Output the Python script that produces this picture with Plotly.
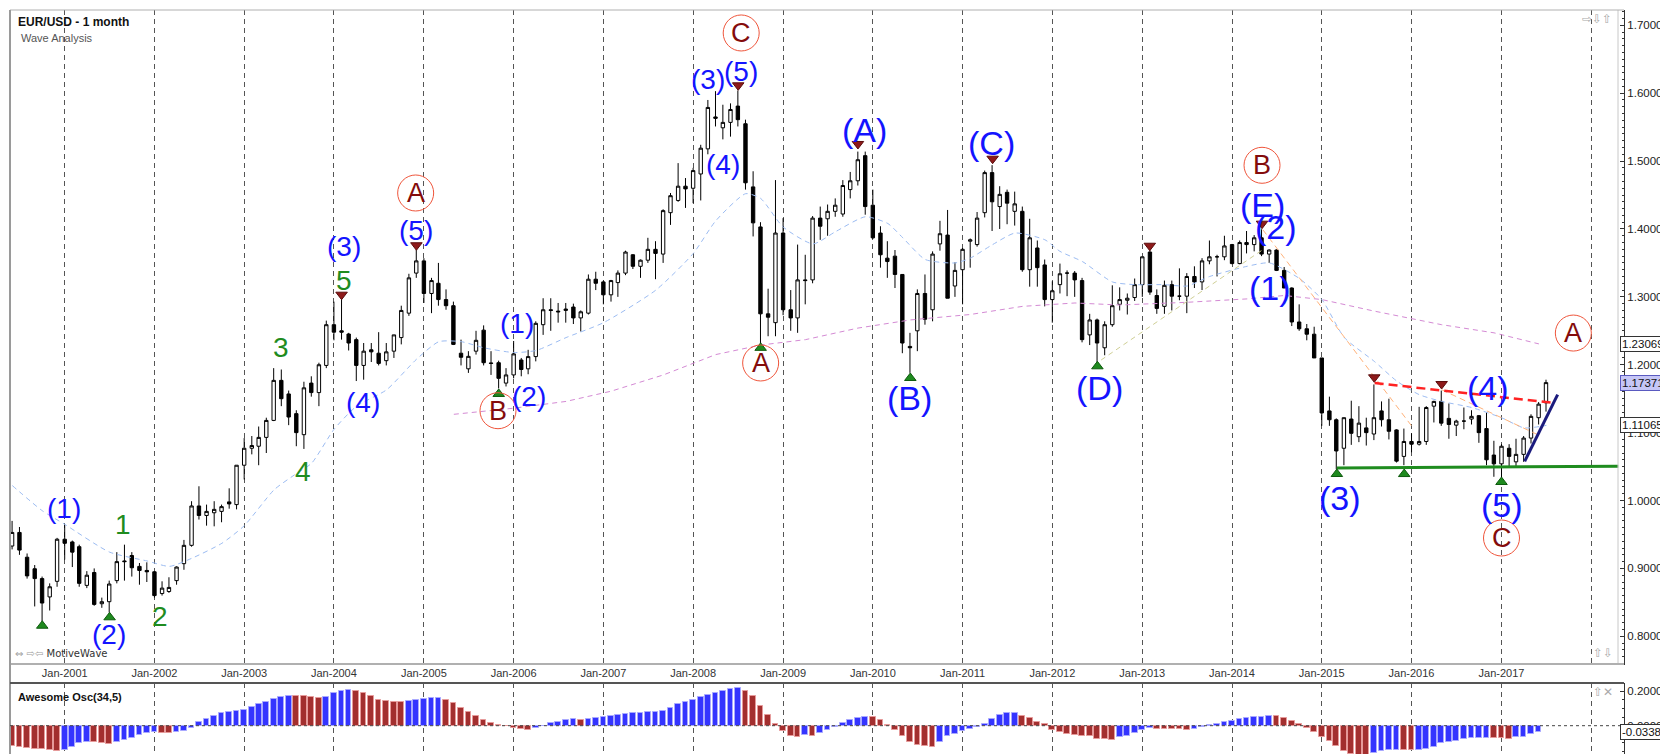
import pandas as pd
import plotly.graph_objects as go

# ---------------- data ----------------
MONTHS = pd.date_range("2000-06-01", periods=206, freq="MS")

OPEN = [
 .9330,.9530,.9165,.8995,.8850,.8580,.8810,
 .9430,.9390,.9320,.8750,.8940,.8480,.8510,.8820,.9110,.9190,.9030,.8970,
 .8950,.8630,.8660,.8820,.9070,.9340,.9920,.9780,.9820,.9840,.9980,.9940,
 1.0520,1.0770,1.0800,1.0930,1.1180,1.1770,1.1570,1.1280,1.0970,1.1730,1.1590,1.1990,
 1.2590,1.2500,1.2453,1.2370,1.1990,1.2220,1.2170,1.2060,1.2200,1.2400,1.2760,1.3350,
 1.3530,1.3050,1.3200,1.2960,1.2870,1.2170,1.1940,1.2200,1.2510,1.2026,1.2030,1.1730,
 1.1850,1.2070,1.1940,1.2120,1.2590,1.2810,1.2790,1.2800,1.2850,1.2690,1.2760,1.3260,
 1.3220,1.3030,1.3210,1.3350,1.3620,1.3450,1.3540,1.3700,1.3630,1.4240,1.4420,1.4630,
 1.4600,1.4810,1.5180,1.5650,1.5490,1.5570,1.5810,1.5550,1.4620,1.4030,1.2750,1.2620,
 1.3940,1.2810,1.2690,1.3250,1.3250,1.4160,1.4150,1.4260,1.4220,1.4580,1.4710,1.5080,
 1.4350,1.3940,1.3570,1.3600,1.3330,1.2270,1.2500,1.3050,1.2810,1.3780,1.3910,1.3160,
 1.3400,1.3820,1.3770,1.4240,1.4830,1.4330,1.4540,1.4260,1.4260,1.3400,1.3720,1.3470,
 1.2960,1.3180,1.3350,1.3350,1.3240,1.2440,1.2660,1.2250,1.2590,1.2890,1.2950,1.2990,
 1.3180,1.3660,1.3020,1.2860,1.3180,1.3010,1.3010,1.3300,1.3220,1.3530,1.3590,1.3590,
 1.3770,1.3490,1.3800,1.3770,1.3870,1.3630,1.3690,1.3390,1.3130,1.2630,1.2530,1.2450,
 1.2100,1.1320,1.1190,1.0770,1.1200,1.0940,1.1070,1.0980,1.1320,1.1190,1.1040,1.0650,
 1.0870,1.0830,1.0870,1.1390,1.1460,1.1210,1.1110,1.1170,1.1200,1.1250,1.1060,1.0670,
 1.0540,1.0770,1.0570,1.0680,1.0920,1.1220,1.1440]
HIGH = [
 .9700,.9610,.9220,.9050,.8880,.8780,.9450,
 .9640,.9410,.9350,.8960,.9000,.8570,.8820,.9240,.9350,.9240,.9080,.9090,
 .8960,.8810,.8870,.9030,.9420,.9990,1.0210,.9940,.9990,.9940,1.0180,1.0520,
 1.0920,1.0950,1.1090,1.1220,1.1950,1.1930,1.1620,1.1330,1.1750,1.1830,1.2030,1.2650,
 1.2930,1.3010,1.2470,1.2400,1.2320,1.2320,1.2480,1.2320,1.2440,1.2870,1.3340,1.3690,
 1.3570,1.3280,1.3500,1.3110,1.2930,1.2370,1.2200,1.2500,1.2580,1.2200,1.2060,1.1950,
 1.2350,1.2100,1.2220,1.2640,1.2980,1.2980,1.2910,1.2910,1.2900,1.2800,1.3330,1.3370,
 1.3240,1.3250,1.3390,1.3680,1.3630,1.3550,1.3870,1.3820,1.4290,1.4530,1.4970,1.4750,
 1.4900,1.5240,1.5900,1.6030,1.5830,1.5850,1.6040,1.5610,1.4850,1.4100,1.3120,1.4720,
 1.4160,1.3100,1.3770,1.3620,1.4190,1.4330,1.4360,1.4450,1.4720,1.4840,1.5140,1.5140,
 1.4580,1.4040,1.3820,1.3690,1.3330,1.2470,1.3110,1.3330,1.3670,1.4120,1.4280,1.3510,
 1.3720,1.3860,1.4250,1.4860,1.4940,1.4630,1.4580,1.4550,1.4330,1.4150,1.3830,1.3550,
 1.3230,1.3490,1.3390,1.3380,1.3280,1.2750,1.2680,1.2640,1.3170,1.3140,1.3050,1.3270,
 1.3590,1.3710,1.3110,1.3240,1.3240,1.3420,1.3350,1.3450,1.3570,1.3830,1.3620,1.3900,
 1.3780,1.3830,1.3970,1.3910,1.3995,1.3700,1.3700,1.3440,1.3140,1.2890,1.2600,1.2560,
 1.2100,1.1530,1.1210,1.1220,1.1470,1.1390,1.1220,1.1710,1.1460,1.1500,1.1050,1.1060,
 1.0990,1.1380,1.1390,1.1470,1.1620,1.1430,1.1190,1.1370,1.1330,1.1260,1.1300,1.0880,
 1.0830,1.0830,1.0910,1.0950,1.1270,1.1450,1.1780]
LOW = [
 .9280,.9200,.8850,.8440,.8225,.8380,.8730,
 .9130,.9020,.8730,.8710,.8450,.8420,.8350,.8780,.8820,.8880,.8760,.8800,
 .8570,.8600,.8640,.8760,.8980,.9320,.9720,.9630,.9620,.9680,.9880,.9870,
 1.0310,1.0680,1.0520,1.0700,1.1170,1.1390,1.1110,1.0800,1.0760,1.1530,1.1390,1.1950,
 1.2360,1.2370,1.2210,1.1760,1.1780,1.2040,1.1990,1.1990,1.2100,1.2300,1.2720,1.3280,
 1.2910,1.2760,1.2870,1.2810,1.2290,1.1990,1.1880,1.2150,1.1990,1.1850,1.1650,1.1680,
 1.1800,1.1830,1.1860,1.2050,1.2440,1.2500,1.2620,1.2620,1.2600,1.2490,1.2740,1.3100,
 1.2890,1.2930,1.3000,1.3320,1.3410,1.3280,1.3500,1.3260,1.3500,1.4060,1.4400,1.4310,
 1.4380,1.4420,1.5100,1.5510,1.5320,1.5360,1.5510,1.4580,1.3890,1.2310,1.2420,1.2420,
 1.2730,1.2500,1.2470,1.2890,1.3200,1.3840,1.3900,1.4180,1.4180,1.4450,1.4640,1.4210,
 1.3850,1.3430,1.3280,1.3130,1.2170,1.1880,1.2200,1.2590,1.2640,1.3680,1.2980,1.3000,
 1.2890,1.3430,1.3740,1.4170,1.3970,1.4000,1.4070,1.4050,1.3370,1.3150,1.3150,1.2860,
 1.2620,1.3050,1.3010,1.3000,1.2330,1.2290,1.2040,1.2140,1.2560,1.2800,1.2740,1.2940,
 1.3000,1.3030,1.2750,1.2750,1.2800,1.2950,1.2760,1.3130,1.3100,1.3480,1.3300,1.3540,
 1.3480,1.3480,1.3640,1.3670,1.3600,1.3500,1.3380,1.3130,1.2570,1.2500,1.2360,1.2100,
 1.1100,1.1100,1.0460,1.0520,1.0820,1.0860,1.0810,1.0890,1.1090,1.0900,1.0560,1.0520,
 1.0710,1.0810,1.0820,1.1150,1.1100,1.0910,1.0950,1.1050,1.1120,1.0850,1.0520,1.0350,
 1.0340,1.0490,1.0500,1.0570,1.0840,1.1120,1.1310]
CLOSE = [
 .9530,.9270,.8890,.8850,.8490,.8730,.9430,
 .9370,.9240,.8780,.8900,.8470,.8510,.8770,.9100,.9100,.9010,.8970,.8950,
 .8600,.8710,.8720,.9020,.9340,.9920,.9780,.9840,.9870,.9910,.9950,1.0520,
 1.0770,1.0810,1.0930,1.1180,1.1770,1.1500,1.1230,1.1000,1.1660,1.1590,1.2000,1.2590,
 1.2480,1.2480,1.2320,1.1990,1.2200,1.2190,1.2020,1.2190,1.2440,1.2800,1.3280,1.3530,
 1.3050,1.3240,1.2960,1.2870,1.2300,1.2110,1.2124,1.2360,1.2030,1.2020,1.1800,1.1850,
 1.2160,1.1930,1.2120,1.2610,1.2810,1.2800,1.2780,1.2820,1.2690,1.2780,1.3260,1.3200,
 1.3030,1.3240,1.3350,1.3660,1.3450,1.3540,1.3700,1.3640,1.4270,1.4490,1.4630,1.4590,
 1.4860,1.5190,1.5790,1.5630,1.5570,1.5760,1.5610,1.4680,1.4090,1.2750,1.2700,1.3940,
 1.2810,1.2690,1.3250,1.3240,1.4160,1.4040,1.4260,1.4350,1.4640,1.4710,1.5020,1.4330,
 1.3870,1.3620,1.3520,1.3330,1.2320,1.2250,1.3050,1.2670,1.3630,1.3930,1.2980,1.3390,
 1.3700,1.3840,1.4160,1.4830,1.4400,1.4510,1.4380,1.4370,1.3400,1.3870,1.3430,1.2960,
 1.3090,1.3340,1.3350,1.3250,1.2370,1.2660,1.2320,1.2590,1.2870,1.2960,1.2980,1.3180,
 1.3590,1.3070,1.2830,1.3170,1.3010,1.3010,1.3300,1.3220,1.3530,1.3590,1.3590,1.3750,
 1.3490,1.3800,1.3770,1.3870,1.3630,1.3690,1.3390,1.3130,1.2630,1.2530,1.2450,1.2100,
 1.1290,1.1190,1.0730,1.1220,1.0990,1.1140,1.1000,1.1220,1.1190,1.1020,1.0580,1.0870,
 1.0830,1.0870,1.1370,1.1460,1.1140,1.1120,1.1170,1.1170,1.1240,1.1000,1.0600,1.0540,
 1.0800,1.0650,1.0680,1.0920,1.1240,1.1420,1.1737]

# Awesome oscillator, one bar per month from Jun-2000 to Jun-2017
AO = [
 -0.120,-0.126,-0.130,-0.133,-0.135,-0.144,-0.146,
 -0.140,-0.121,-0.102,-0.092,-0.095,-0.100,-0.106,
 -0.092,-0.082,-0.072,-0.053,-0.044,-0.039,
 -0.042,-0.044,-0.037,-0.029,-0.014,
 0.019,0.041,0.058,0.074,0.079,0.087,0.093,
 0.110,0.126,0.138,0.157,0.169,0.175,
 0.174,0.173,0.169,0.163,
 0.169,0.190,0.204,0.205,
 0.203,0.190,0.174,0.151,0.142,0.138,0.136,
 0.141,0.151,0.157,0.160,0.161,
 0.151,0.132,0.103,0.078,0.054,0.031,0.016,0.006,-0.003,-0.013,-0.017,-0.024,
 -0.014,-0.002,0.013,0.023,0.035,0.039,
 0.033,
 0.039,0.045,0.048,0.054,0.060,0.066,0.071,0.073,0.080,0.082,0.087,0.103,0.126,0.136,0.151,0.165,0.180,0.190,0.200,0.212,0.217,
 0.203,0.171,0.116,0.060,0.012,-0.029,-0.061,-0.063,
 -0.056,
 -0.057,
 -0.045,-0.023,-0.008,0.016,0.035,0.045,0.050,
 0.049,0.033,0.006,-0.023,-0.062,-0.097,-0.110,-0.119,-0.121,
 -0.095,-0.062,-0.048,-0.033,-0.017,-0.010,0.012,0.037,0.060,0.071,0.072,
 0.054,0.045,0.023,0.010,-0.025,-0.039,-0.048,-0.054,-0.058,-0.059,-0.078,-0.080,-0.081,
 -0.068,-0.062,-0.045,-0.025,-0.012,
 -0.018,-0.019,-0.020,-0.021,-0.023,
 -0.019,-0.008,0.004,0.010,0.019,0.029,0.037,0.043,0.048,0.052,0.056,
 0.055,0.043,0.027,0.010,-0.016,-0.035,-0.064,-0.089,-0.116,-0.145,-0.167,-0.170,-0.172,
 -0.157,-0.147,-0.142,-0.140,
 -0.141,-0.142,
 -0.141,-0.136,-0.122,-0.103,-0.093,-0.087,-0.078,-0.072,-0.071,-0.070,
 -0.071,-0.074,-0.078,
 -0.068,-0.064,-0.048,-0.034]

# moving averages (month offset from Jan-2001, value)
BLUE_MA_M = [-7,-3,0,6,11,14,17,21,24,28,31,33,36,39,43,47,50,53,56,60,63,67,72,79,84,87,91,93,96,100,
             103,107,110,112,115,119,121,124,127,131,133,136,140,143,147,150,153,158,161,165,168,171,175,178,181,184,188,192,195,198]
BLUE_MA_V = [1.022,0.985,0.965,0.924,0.911,0.903,0.915,0.937,0.963,1.016,1.040,1.055,1.105,1.139,1.163,1.208,1.234,1.234,1.225,1.218,
             1.221,1.240,1.262,1.310,1.364,1.412,1.452,1.445,1.403,1.378,1.396,1.418,1.408,1.387,1.355,1.350,1.357,1.377,1.394,1.384,
             1.367,1.352,1.322,1.318,1.318,1.316,1.330,1.345,1.350,1.327,1.296,1.240,1.205,1.176,1.156,1.146,1.137,1.122,1.107,1.1107]
PURPLE_MA_M = [52,60,67,73,80,87,93,99,106,113,121,128,135,141,150,158,163,168,175,184,191,197]
PURPLE_MA_V = [1.127,1.136,1.146,1.161,1.185,1.215,1.229,1.237,1.254,1.266,1.274,1.286,1.291,1.288,1.292,1.297,1.302,1.296,1.279,1.259,1.247,1.2307]

# drawn trend lines (month offset, price)
SUPPORT = [(170.0, 1.0480), (207.6, 1.0505)]
RESIST = [(175.05, 1.1731), (199.1, 1.1437)]
NAVY = [(195.1, 1.0578), (199.5, 1.1559)]
ORANGE1 = [(160.1, 1.3990), (180.2, 1.1068)]
ORANGE2 = [(184.0, 1.1632), (197.3, 1.0946)]
KHAKI = [(138.5, 1.2070), (160.1, 1.3695)]

# wave labels
BLUE_LABELS = [("(1)",-0.1,0.989,28),("(2)",5.9,0.8034,28),("(3)",37.3,1.3745,28),("(4)",39.9,1.1437,28),
               ("(5)",46.9,1.3975,28),("(1)",60.4,1.2615,28),("(2)",62.1,1.1535,28),("(3)",85.9,1.6199,28),
               ("(4)",88.0,1.4947,28),("(5)",90.4,1.6322,28),("(A)",106.9,1.5462,34),("(B)",112.9,1.1510,34),
               ("(C)",123.9,1.5266,34),("(D)",138.3,1.1658,34),("(E)",160.0,1.4358,34),("(2)",161.9,1.4025,34),
               ("(1)",161.0,1.3131,34),("(3)",170.4,1.0037,34),("(4)",190.2,1.1658,34),("(5)",192.0,0.9939,34)]
GREEN_LABELS = [("1",7.8,0.965),("2",12.8,0.8295),("3",28.9,1.2247),("4",31.8,1.0430),("5",37.3,1.3238)]
CIRCLE_LABELS = [("A",46.9,1.4530),("B",57.9,1.1323),("C",90.4,1.6887),("A",93.0,1.2026),
                 ("B",160.0,1.4938),("C",192.0,0.9448),("A",201.6,1.2467)]
TRI_UP = [(-3,0.8156),(6,0.828),(58,1.157),(93,1.2249),(113,1.1805),(138,1.1977),(170,1.0391),(179,1.039),(192,1.0273)]
TRI_DOWN = [(37,1.3032),(47,1.376),(90,1.6116),(106,1.5252),(124,1.5035),(145,1.3753),(160,1.4078),(175,1.1815),(184,1.1716)]

YEAR_TICKS = list(range(2001, 2019))

# ---------------- helpers ----------------
T0 = pd.Timestamp("2001-01-01")
def mdate(m):
    return T0 + pd.Timedelta(days=m * 365.25 / 12)

W, H = 1668, 754
ML, MR, MT, MB = 2, 52, 2, 4
PW, PH = W - ML - MR, H - MT - MB
def xp(px): return (px - ML) / PW
def yp(py): return (H - MB - py) / PH

PX_PER_DAY = 89.8 / 365.25
X0 = T0 - pd.Timedelta(days=(56.7 - ML) / PX_PER_DAY)
X1 = T0 + pd.Timedelta(days=(W - MR - 56.7) / PX_PER_DAY)

FONT = "Liberation Sans, Arial, sans-serif"

fig = go.Figure()

# moving averages
fig.add_trace(go.Scatter(x=[mdate(m) for m in PURPLE_MA_M], y=PURPLE_MA_V, mode="lines",
                         line=dict(color="#d48ad4", width=1, dash="5px,4px"), hoverinfo="skip"))
fig.add_trace(go.Scatter(x=[mdate(m) for m in BLUE_MA_M], y=BLUE_MA_V, mode="lines",
                         line=dict(color="#9cbcf2", width=1, dash="5px,4px", shape="spline", smoothing=0.6),
                         hoverinfo="skip"))
for seg, col, wd, dsh in [(KHAKI, "#cfcf95", 1, "5px,4px"), (ORANGE1, "#ffb27a", 1, "6px,4px"),
                          (ORANGE2, "#ffb27a", 1, "6px,4px")]:
    fig.add_trace(go.Scatter(x=[mdate(a) for a, _ in seg], y=[b for _, b in seg], mode="lines",
                             line=dict(color=col, width=wd, dash=dsh), hoverinfo="skip"))

# candles
fig.add_trace(go.Candlestick(
    x=MONTHS, open=OPEN, high=HIGH, low=LOW, close=CLOSE,
    increasing=dict(line=dict(color="black", width=1), fillcolor="white"),
    decreasing=dict(line=dict(color="black", width=1), fillcolor="black"),
    whiskerwidth=0, hoverinfo="skip", xaxis="x", yaxis="y"))

# trend lines
for seg, col, wd, dsh in [(SUPPORT, "#1f8c1f", 3, "solid"), (RESIST, "#ff2222", 2.5, "9px,5px"),
                          (NAVY, "#1b1b7d", 3, "solid")]:
    fig.add_trace(go.Scatter(x=[mdate(a) for a, _ in seg], y=[b for _, b in seg], mode="lines",
                             line=dict(color=col, width=wd, dash=dsh), hoverinfo="skip"))

# triangles
fig.add_trace(go.Scatter(x=[mdate(m) for m, _ in TRI_UP], y=[v for _, v in TRI_UP], mode="markers",
                         marker=dict(symbol="triangle-up", size=10, color="#1e8a1e",
                                     line=dict(color="#0d5a0d", width=1)), hoverinfo="skip"))
fig.add_trace(go.Scatter(x=[mdate(m) for m, _ in TRI_DOWN], y=[v for _, v in TRI_DOWN], mode="markers",
                         marker=dict(symbol="triangle-down", size=10, color="#8e1a1a",
                                     line=dict(color="#5a0d0d", width=1)), hoverinfo="skip"))

# circled letters
fig.add_trace(go.Scatter(x=[mdate(m) for _, m, _ in CIRCLE_LABELS], y=[v for _, _, v in CIRCLE_LABELS],
                         mode="markers", marker=dict(symbol="circle-open", size=36,
                                                     line=dict(color="#bf7070", width=1)),
                         hoverinfo="skip"))

annotations = []
for t, m, v in CIRCLE_LABELS:
    annotations.append(dict(x=mdate(m), y=v, xref="x", yref="y", text=t, showarrow=False,
                            font=dict(family=FONT, size=27, color="#840c0c")))
for t, m, v, s in BLUE_LABELS:
    annotations.append(dict(x=mdate(m), y=v, xref="x", yref="y", text=t, showarrow=False,
                            font=dict(family=FONT, size=s, color="#1414ff")))
for t, m, v in GREEN_LABELS:
    annotations.append(dict(x=mdate(m), y=v, xref="x", yref="y", text=t, showarrow=False,
                            font=dict(family=FONT, size=28, color="#1f8c1f")))

# oscillator
colors, edges = [], []
for i, v in enumerate(AO):
    up = i > 0 and v > AO[i - 1]
    colors.append("#3434ff" if up else "#a32f2f")
    edges.append("#a8a8ff" if up else "#e69a9a")
fig.add_trace(go.Bar(x=MONTHS[:len(AO)], y=AO, marker=dict(color=colors, line=dict(color=edges, width=1)),
                     width=23 * 86400000, xaxis="x2", yaxis="y2", hoverinfo="skip"))

# texts
annotations += [
    dict(x=xp(8), y=yp(13.5), xref="paper", yref="paper", xanchor="left", yanchor="middle",
         text="<b>EUR/USD - 1 month</b>", showarrow=False, font=dict(family=FONT, size=12, color="#111")),
    dict(x=xp(11), y=yp(30), xref="paper", yref="paper", xanchor="left", yanchor="middle",
         text="Wave Analysis", showarrow=False, font=dict(family=FONT, size=11, color="#555")),
    dict(x=xp(8), y=yp(688.5), xref="paper", yref="paper", xanchor="left", yanchor="middle",
         text="<b>Awesome Osc(34,5)</b>", showarrow=False, font=dict(family=FONT, size=11, color="#111")),
    dict(x=xp(5), y=yp(645), xref="paper", yref="paper", xanchor="left", yanchor="middle",
         text="<span style='color:#9a9a9a'>⇔ ⇨⇦</span> MotiveWave", showarrow=False,
         font=dict(family="DejaVu Sans, " + FONT, size=10, color="#333")),
    dict(x=xp(1572), y=yp(11), xref="paper", yref="paper", xanchor="left", yanchor="middle",
         text="⇨⇩⇧", showarrow=False, font=dict(family="DejaVu Sans", size=12, color="#aaaaaa")),
    dict(x=xp(1583), y=yp(645), xref="paper", yref="paper", xanchor="left", yanchor="middle",
         text="⇧⇩", showarrow=False, font=dict(family="DejaVu Sans", size=12, color="#aaaaaa")),
    dict(x=xp(1583), y=yp(684), xref="paper", yref="paper", xanchor="left", yanchor="middle",
         text="⇧✕", showarrow=False, font=dict(family="DejaVu Sans", size=12, color="#aaaaaa")),
]
# value tags on the right axis
for val, yr, bg, bc, txt in [(1.23069, "y", "white", "#333", "1.23069"),
                             (1.17371, "y", "#c6c6f6", "#5a5ac0", "1.17371"),
                             (1.11065, "y", "white", "#333", "1.11065"),
                             (-0.0338, "y2", "white", "#333", "-0.0338")]:
    annotations.append(dict(x=xp(1612), y=val, xref="paper", yref=yr, xanchor="left", yanchor="middle",
                            text=txt, showarrow=False, bgcolor=bg, bordercolor=bc, borderwidth=1,
                            borderpad=1, font=dict(family=FONT, size=11.5, color="#111")))

# frame lines
shapes = [
    dict(type="line", xref="paper", yref="paper", x0=xp(1610), x1=xp(1610), y0=yp(2), y1=yp(657),
         line=dict(color="#c8c8c8", width=1)),
    dict(type="line", xref="paper", yref="paper", x0=0, x1=1, y0=yp(656), y1=yp(656),
         line=dict(color="#b0b0b0", width=2)),
    dict(type="line", xref="paper", yref="paper", x0=0, x1=1, y0=yp(2), y1=yp(2),
         line=dict(color="#b0b0b0", width=1)),
    dict(type="line", xref="paper", yref="paper", x0=0, x1=0, y0=0, y1=1,
         line=dict(color="#9a9a9a", width=2)),
    dict(type="line", xref="paper", yref="paper", x0=0, x1=1, y0=yp(675), y1=yp(675),
         line=dict(color="#555", width=2)),
    dict(type="line", xref="paper", yref="paper", x0=0, x1=1, y0=yp(751), y1=yp(751),
         line=dict(color="#444", width=2)),
    dict(type="line", xref="paper", yref="y2", x0=0, x1=1, y0=0, y1=0,
         line=dict(color="#444", width=1, dash="3px,3px")),
]

tickvals = [pd.Timestamp(f"{y}-01-01") for y in YEAR_TICKS]
ticktext = [f"Jan-{y}" if y <= 2017 else "" for y in YEAR_TICKS]
grid = dict(showgrid=True, gridcolor="#555555", griddash="5px,4px", gridwidth=1)

yax_common = dict(side="right", tickmode="linear", tick0=0, ticks="inside", ticklen=4, tickcolor="#333",
                  showline=True, linecolor="#333", linewidth=1, showgrid=False, zeroline=False,
                  tickfont=dict(family=FONT, size=11.5, color="#222"))

fig.update_layout(
    width=W, height=H, margin=dict(l=ML, r=MR, t=MT, b=MB),
    paper_bgcolor="white", plot_bgcolor="white", showlegend=False, hovermode=False,
    font=dict(family=FONT, size=11, color="#222"),
    xaxis=dict(domain=[0, 1], range=[X0, X1], anchor="y", type="date", tickmode="array",
               tickvals=tickvals, ticktext=ticktext, ticks="", zeroline=False, showline=False,
               rangeslider=dict(visible=False), tickfont=dict(family=FONT, size=11, color="#333"), **grid),
    xaxis2=dict(domain=[0, 1], matches="x", anchor="y2", type="date", tickmode="array",
                tickvals=tickvals, showticklabels=False, ticks="", zeroline=False, showline=False, **grid),
    yaxis=dict(domain=[yp(657), 1], range=[1.7 - (657 - 17.3) / 678.9, 1.7 + (17.3 - 2) / 678.9],
               anchor="x", dtick=0.1, tickformat=".5f",
               minor=dict(dtick=0.01, tick0=0, ticks="inside", ticklen=2, tickcolor="#333"), **yax_common),
    yaxis2=dict(domain=[0, yp(675)], range=[-(750 - 717.7) / 172, (717.7 - 675) / 172],
                anchor="x2", dtick=0.2, tickformat=".4f",
                minor=dict(dtick=0.05, tick0=0, ticks="inside", ticklen=2, tickcolor="#333"), **yax_common),
    annotations=annotations, shapes=shapes, bargap=0,
)

fig.write_html("out.html")
